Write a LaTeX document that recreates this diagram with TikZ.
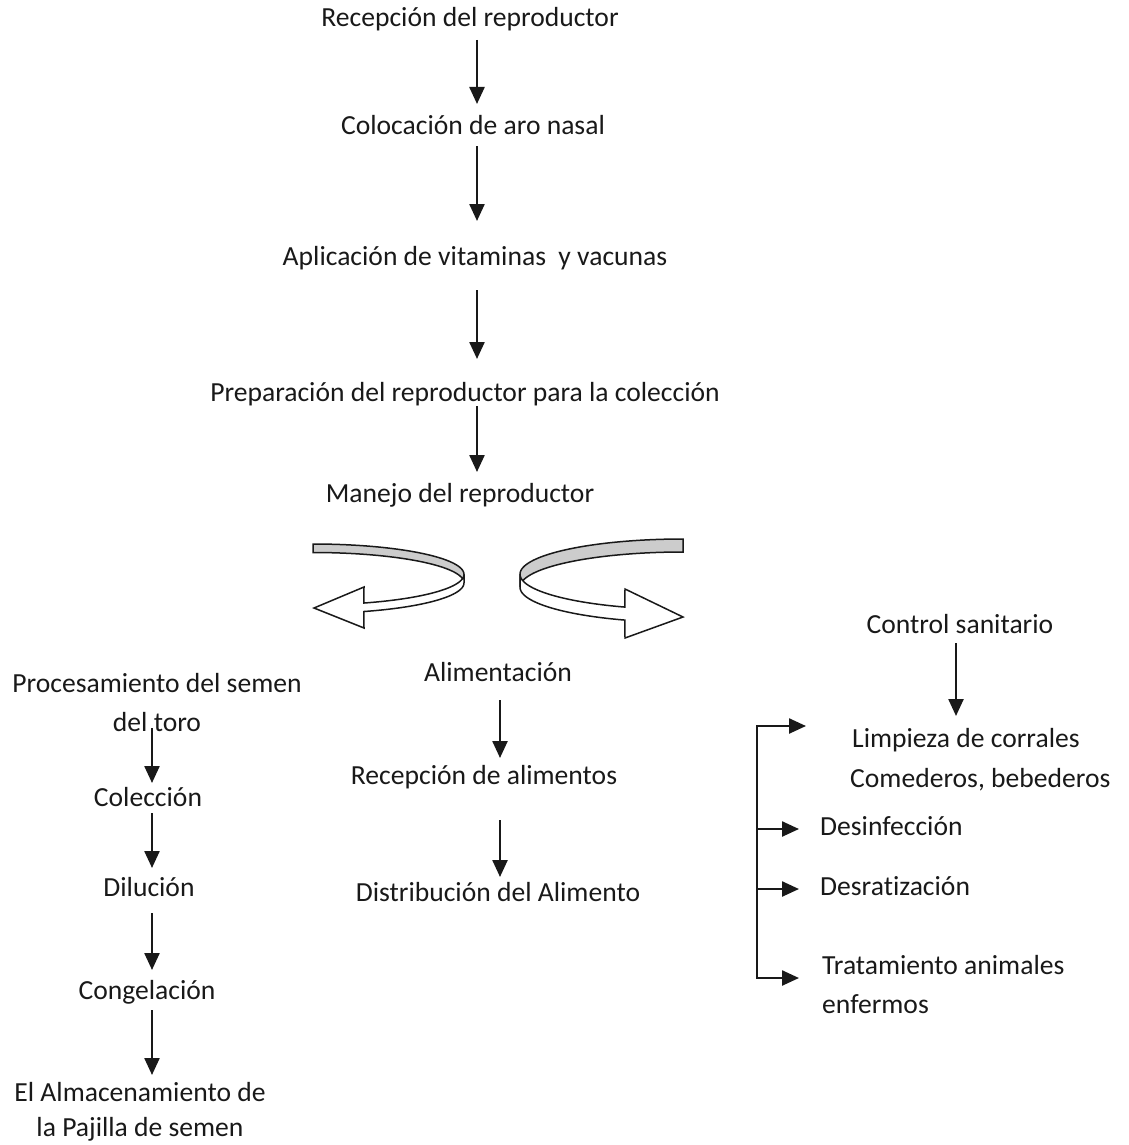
\documentclass[tikz,border=0pt]{standalone}
\usepackage{fontspec}
\setmainfont{Carlito}[Ligatures={NoCommon}]
\usetikzlibrary{arrows.meta}
\begin{document}
\begin{tikzpicture}[x=1pt,y=-1pt,
  lbl/.style={inner sep=0pt, font=\fontsize{27.6}{39}\selectfont, text=black!90},
  one/.style={lbl, text height=19pt, text depth=6pt},
  arr/.style={line width=2.4pt, draw=black!90, -{Triangle[length=17pt,width=15pt]}},
  ribbon/.style={line width=1.5pt, draw=black!90, line join=miter},
  band/.style={ribbon, fill=black!20},
  front/.style={ribbon, fill=white}]
\useasboundingbox (0,0) rectangle (1128,1145);

% main column
\coordinate (ax) at (477,0);
\node[one] (r1) at (470,20) {Recepción del reproductor};
\node[one] (r2) at (473,128) {Colocación de aro nasal};
\node[one] (r3) at (475,259) {Aplicación de vitaminas\ \ y vacunas};
\node[one] (r4) at (465,395) {Preparación del reproductor para la colección};
\node[one] (r5) at (460,496) {Manejo del reproductor};
\draw[arr, shorten <=20pt, shorten >=24pt] (r1 -| ax) -- (r2 -| ax);
\draw[arr, shorten <=18pt, shorten >=38pt] (r2 -| ax) -- (r3 -| ax);
\draw[arr, shorten <=31pt, shorten >=36pt] (r3 -| ax) -- (r4 -| ax);
\draw[arr, shorten <=11pt, shorten >=24pt] (r4 -| ax) -- (r5 -| ax);

% left curved ribbon arrow
\filldraw[band] plot[domain=90:0, samples=40] ({313+151*cos(\x)},{574.4-30.4*sin(\x)})
  -- plot[domain=0:90, samples=40] ({313+151*cos(\x)},{582.9-30.4*sin(\x)}) -- cycle;
\filldraw[front] plot[domain=0:-70.3, samples=40] ({313+151*cos(\x)},{574.4-30.4*sin(\x)})
  -- (364,587) -- (314,608) -- (364,628)
  -- plot[domain=-70.3:0, samples=40] ({313+151*cos(\x)},{582.9-30.4*sin(\x)}) -- cycle;

% right curved ribbon arrow
\filldraw[band] plot[domain=90:180, samples=40] ({683+163*cos(\x)},{574.2-35.2*sin(\x)})
  -- plot[domain=180:90, samples=40] ({683+163*cos(\x)},{587.2-35.2*sin(\x)}) -- cycle;
\filldraw[front] plot[domain=180:249.1, samples=40] ({683+163*cos(\x)},{574.2-35.2*sin(\x)})
  -- (625,589) -- (683,617) -- (625,638)
  -- plot[domain=249.1:180, samples=40] ({683+163*cos(\x)},{587.2-35.2*sin(\x)}) -- cycle;

% left column
\coordinate (lx) at (152,0);
\node[lbl, align=center] (p1) at (157,703) {Procesamiento del semen\\del toro};
\node[one] (p2) at (148,800) {Colección};
\node[one] (p3) at (149,890) {Dilución};
\node[one] (p4) at (147,993) {Congelación};
\node[lbl, align=center, font=\fontsize{27.6}{35}\selectfont] (p5) at (140,1112) {El Almacenamiento de\\la Pajilla de semen};
\draw[arr, shorten <=25pt, shorten >=17pt] (p1 -| lx) -- (p2 -| lx);
\draw[arr, shorten <=13pt, shorten >=22pt] (p2 -| lx) -- (p3 -| lx);
\draw[arr, shorten <=23pt, shorten >=23pt] (p3 -| lx) -- (p4 -| lx);
\draw[arr, shorten <=17pt, shorten >=37pt] (p4 -| lx) -- (p5 -| lx);

% middle column
\coordinate (mx) at (500,0);
\node[one] (a1) at (498,675) {Alimentación};
\node[one] (a2) at (484,778) {Recepción de alimentos};
\node[one] (a3) at (498,895) {Distribución del Alimento};
\draw[arr, shorten <=25pt, shorten >=20pt] (a1 -| mx) -- (a2 -| mx);
\draw[arr, shorten <=42pt, shorten >=18pt] (a2 -| mx) -- (a3 -| mx);

% right column
\coordinate (cx) at (956,0);
\node[one] (c1) at (960,627) {Control sanitario};
\node[lbl, align=left, anchor=west, font=\fontsize{27.6}{40}\selectfont] (c2) at (850,760) {\hspace*{2pt}Limpieza de corrales\\Comederos, bebederos};
\node[one, anchor=west] (c3) at (820,829) {Desinfección};
\node[one, anchor=west] (c4) at (820,889) {Desratización};
\node[lbl, align=left, anchor=west, font=\fontsize{27.6}{39}\selectfont] (c5) at (822,985) {Tratamiento animales\\enfermos};
\draw[arr, shorten <=16pt, shorten >=44pt] (c1 -| cx) -- (c2 -| cx);

\coordinate (b1) at (757,726);
\coordinate (b4) at (757,978);
\draw[arr, line cap=rect, shorten >=44pt] (b4) -- (b1) -- (c2.west |- b1);
\draw[arr, shorten >=21pt] (b1 |- c3) -- (c3.west);
\draw[arr, shorten >=21pt] (b1 |- c4) -- (c4.west);
\draw[arr, line cap=rect, shorten >=23pt] (b4) -- (c5.west |- b4);
\end{tikzpicture}
\end{document}
